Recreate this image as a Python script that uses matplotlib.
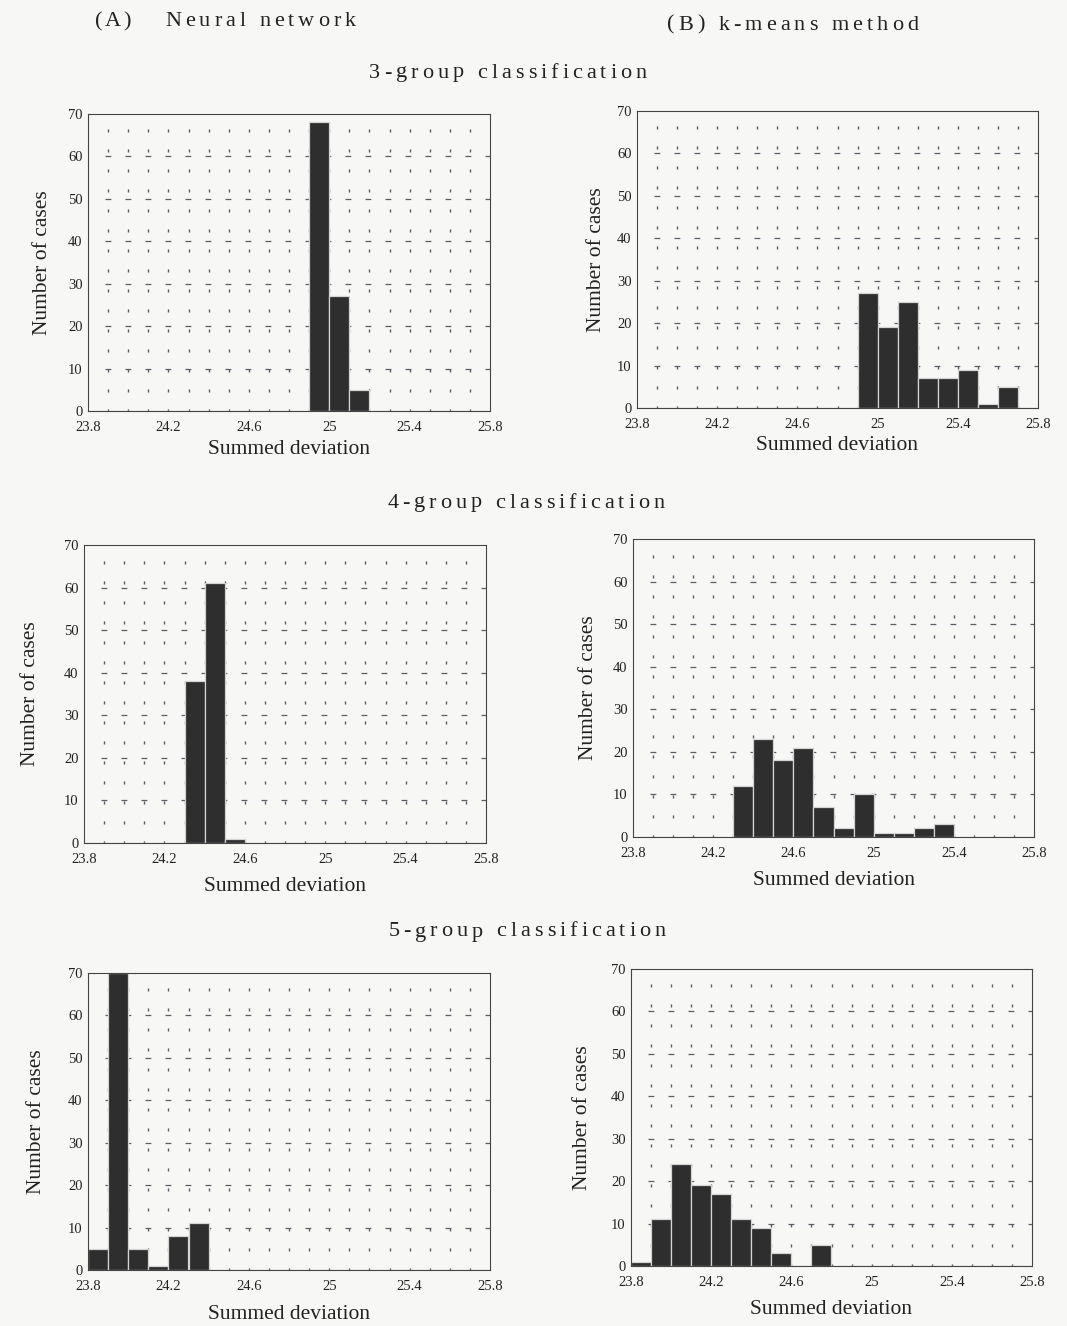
import matplotlib
matplotlib.use('Agg')
import matplotlib.pyplot as plt
from matplotlib import font_manager
from matplotlib.ft2font import FT2Font
import numpy as np

# histogram bins: left edges, width 0.1
bin_left = [23.8, 23.9, 24.0, 24.1, 24.2, 24.3, 24.4, 24.5, 24.6, 24.7,
            24.8, 24.9, 25.0, 25.1, 25.2, 25.3, 25.4, 25.5, 25.6, 25.7]
bin_width = 0.1

# counts per bin
nn_3 = [0, 0, 0, 0, 0, 0, 0, 0, 0, 0, 0, 68, 27, 5, 0, 0, 0, 0, 0, 0]
km_3 = [0, 0, 0, 0, 0, 0, 0, 0, 0, 0, 0, 27, 19, 25, 7, 7, 9, 1, 5, 0]
nn_4 = [0, 0, 0, 0, 0, 38, 61, 1, 0, 0, 0, 0, 0, 0, 0, 0, 0, 0, 0, 0]
km_4 = [0, 0, 0, 0, 0, 12, 23, 18, 21, 7, 2, 10, 1, 1, 2, 3, 0, 0, 0, 0]
nn_5 = [5, 70, 5, 1, 8, 11, 0, 0, 0, 0, 0, 0, 0, 0, 0, 0, 0, 0, 0, 0]
km_5 = [1, 11, 24, 19, 17, 11, 9, 3, 0, 5, 0, 0, 0, 0, 0, 0, 0, 0, 0, 0]

xticks = [23.8, 24.2, 24.6, 25.0, 25.4, 25.8]
xtick_labels = ['23.8', '24.2', '24.6', '25', '25.4', '25.8']
yticks = [0, 10, 20, 30, 40, 50, 60, 70]

W, H = 1067, 1326
DPI = 100
BG = '#f7f7f5'
BAR = '#2e2e2e'
GRID = '#5e5c66'
TXT = '#222222'
plt.rcParams['font.family'] = ['Liberation Serif', 'DejaVu Serif']
plt.rcParams['lines.scale_dashes'] = False

fig = plt.figure(figsize=(W / DPI, H / DPI), dpi=DPI, facecolor=BG)

serif_file = font_manager.findfont(font_manager.FontProperties(family='Liberation Serif'))


def tracked_text(x_px, y_px, s, size=16, track=4.0, ha='left'):
    # headings are letter-spaced: place each glyph by its advance + tracking
    ft = FT2Font(serif_file)
    ft.set_size(size, DPI)
    adv = []
    for c in s:
        g = ft.load_char(ord(c))
        adv.append(g.linearHoriAdvance / 65536)
    total = sum(adv) + track * (len(s) - 1)
    x = x_px - total / 2 if ha == 'center' else x_px
    for c, a in zip(s, adv):
        if c != ' ':
            fig.text(x / W, 1 - y_px / H, c, ha='left', va='center',
                     fontsize=size, color=TXT, family='Liberation Serif')
        x += a + track


def px_axes(left, top, right, bottom):
    return fig.add_axes([left / W, 1 - bottom / H, (right - left) / W, (bottom - top) / H])


def draw_panel(ax, counts, ylab_x, xlab_y):
    ax.set_facecolor(BG)
    ax.set_xlim(23.8, 25.8)
    ax.set_ylim(0, 70)
    # dotted grid: one dot / dash every ~20 px
    period = 14.4
    gx = np.round(np.arange(23.9, 25.75, 0.1), 1)
    for x in gx:
        ax.plot([x, x], [-0.3, 70], color=GRID, lw=1.0,
                ls=(0, (2.2, period - 2.2)), zorder=1)
    for y in range(10, 70, 10):
        ax.plot([23.885, 25.8], [y, y], color=GRID, lw=0.9,
                ls=(0, (4.2, period - 4.2)), zorder=1)
    ax.bar(bin_left, counts, width=bin_width, align='edge', color=BAR,
           edgecolor='#d4d4d4', linewidth=0.9, zorder=2)
    ax.set_xticks(xticks)
    ax.set_xticklabels(xtick_labels)
    ax.set_yticks(yticks)
    ax.tick_params(length=0, labelsize=10.5, colors=TXT)
    ax.tick_params(axis='x', pad=7)
    ax.tick_params(axis='y', pad=4)
    for s in ax.spines.values():
        s.set_linewidth(0.8)
        s.set_color('#444444')
    ax.text(ylab_x, 0.5, 'Number of cases', transform=ax.transAxes, rotation=90,
            ha='center', va='center', fontsize=15.5, color=TXT)
    ax.text(0.5, xlab_y, 'Summed deviation', transform=ax.transAxes,
            ha='center', va='center', fontsize=15.5, color=TXT)


panels = [
    ((88, 114, 490, 411), nn_3, -0.112, -0.128),
    ((637, 111, 1038, 408), km_3, -0.10, -0.125),
    ((84, 545, 486, 843), nn_4, -0.134, -0.145),
    ((633, 539, 1034, 837), km_4, -0.11, -0.145),
    ((88, 973, 490, 1270), nn_5, -0.127, -0.15),
    ((631, 969, 1032, 1266), km_5, -0.12, -0.148),
]
for rect, counts, lx, ly in panels:
    ax = px_axes(*rect)
    draw_panel(ax, counts, lx, ly)

tracked_text(95, 22, '(A)', track=2.5)
tracked_text(165, 22, 'Neural network')
tracked_text(667, 25, '(B) k-means method')
tracked_text(508, 73, '3-group classification', ha='center')
tracked_text(526, 503, '4-group classification', ha='center')
tracked_text(527, 932, '5-group classification', ha='center')

fig.savefig('out.png', dpi=DPI, facecolor=BG)
